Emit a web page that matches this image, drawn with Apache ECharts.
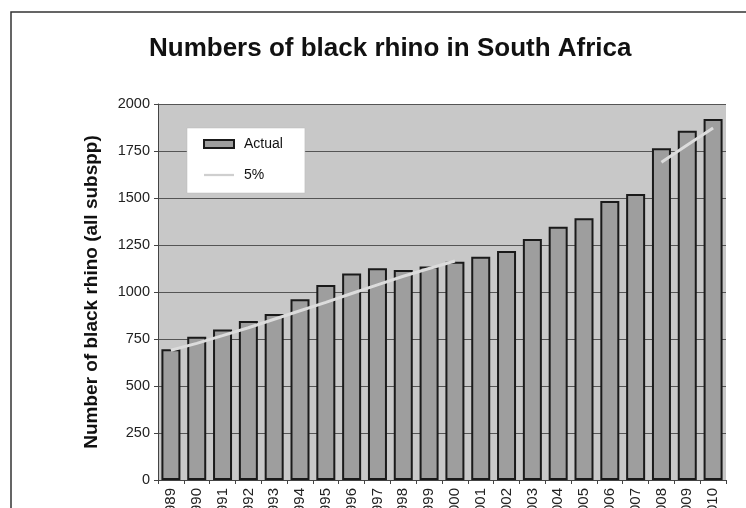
<!DOCTYPE html>
<html>
<head>
<meta charset="utf-8">
<script src="https://cdn.jsdelivr.net/npm/echarts@6/dist/echarts.min.js"></script>
<style>
html,body{margin:0;padding:0;background:#fff;overflow:hidden;}
#chart{width:746px;height:508px;}
</style>
</head>
<body>
<div id="chart"></div>
<script>
var years = ['1989','1990','1991','1992','1993','1994','1995','1996','1997','1998','1999','2000','2001','2002','2003','2004','2005','2006','2007','2008','2009','2010'];
var actual = [695, 762, 801, 846, 883, 962, 1037, 1099, 1126, 1117, 1135, 1161, 1188, 1218, 1282, 1347, 1392, 1484, 1521, 1764, 1858, 1920];
var fivePct = [690, 727, 768, 810, 855, 900, 945, 992, 1038, 1084, 1125, 1165, null, null, null, null, null, null, null, 1690, 1782, 1872];
var yTicks = [0, 250, 500, 750, 1000, 1250, 1500, 1750, 2000];

var chart = echarts.init(document.getElementById('chart'), null, {renderer:'canvas'});
chart.setOption({
  animation: false,
  backgroundColor: '#ffffff',
  textStyle: {fontFamily: 'Liberation Sans, Arial, sans-serif'},
  graphic: [{
    type: 'rect', z: -10,
    shape: {x: 11, y: 12, width: 760, height: 520},
    style: {fill: '#ffffff', stroke: '#333', lineWidth: 1.5}
  }],
  title: {
    text: 'Numbers of black rhino in South Africa',
    left: 144, top: 31,
    textStyle: {fontSize: 26, fontWeight: 'bold', color: '#111', fontFamily: 'Liberation Sans, Arial, sans-serif'}
  },
  legend: {
    orient: 'vertical',
    left: 187, top: 128,
    backgroundColor: '#ffffff',
    borderColor: '#bbb', borderWidth: 0.5,
    padding: [9, 22, 11, 16],
    itemGap: 17, itemWidth: 30, itemHeight: 8,
    textStyle: {fontSize: 14, color: '#111', padding: [0, 0, 0, 5]},
    data: [
      {name: 'Actual', icon: 'rect'},
      {name: '5%', icon: 'path://M0,0 H40 V3 H0 Z', itemStyle: {color: '#cfcfcf', borderWidth: 0}}
    ]
  },
  grid: {left: 158, right: 20, top: 104, bottom: 28, show: true, backgroundColor: '#c8c8c8', borderWidth: 0,
         containLabel: false, outerBoundsMode: 'none'},
  xAxis: {
    type: 'category',
    data: years,
    axisLine: {lineStyle: {color: '#444', width: 1}},
    axisTick: {show: true, alignWithLabel: false, length: 4, lineStyle: {color: '#444'}},
    axisLabel: {rotate: 90, fontSize: 15, color: '#222', margin: 8, interval: 0}
  },
  yAxis: {
    type: 'value', min: 0, max: 2000, interval: 250,
    name: 'Number of black rhino (all subspp)',
    nameLocation: 'middle', nameRotate: 90, nameGap: 57,
    nameTextStyle: {fontSize: 19, fontWeight: 'bold', color: '#111'},
    axisLine: {show: true, lineStyle: {color: '#444', width: 1}},
    axisTick: {show: true, length: 4, lineStyle: {color: '#444'}},
    axisLabel: {fontSize: 14.5, color: '#222', margin: 8,
      formatter: function (v) { return yTicks.indexOf(v) >= 0 ? String(v) : ''; }},
    splitLine: {show: true, lineStyle: {color: '#555', width: 1}}
  },
  series: [{
    name: 'Actual',
    type: 'bar',
    data: actual,
    barWidth: 19,
    itemStyle: {color: '#9e9e9e', borderColor: '#1a1a1a', borderWidth: 2}
  }, {
    name: '5%',
    type: 'line',
    data: fivePct,
    symbol: 'none',
    connectNulls: false,
    z: 5,
    itemStyle: {color: '#dcdcdc'},
    lineStyle: {color: '#dcdcdc', width: 3}
  }]
});
</script>
</body>
</html>
